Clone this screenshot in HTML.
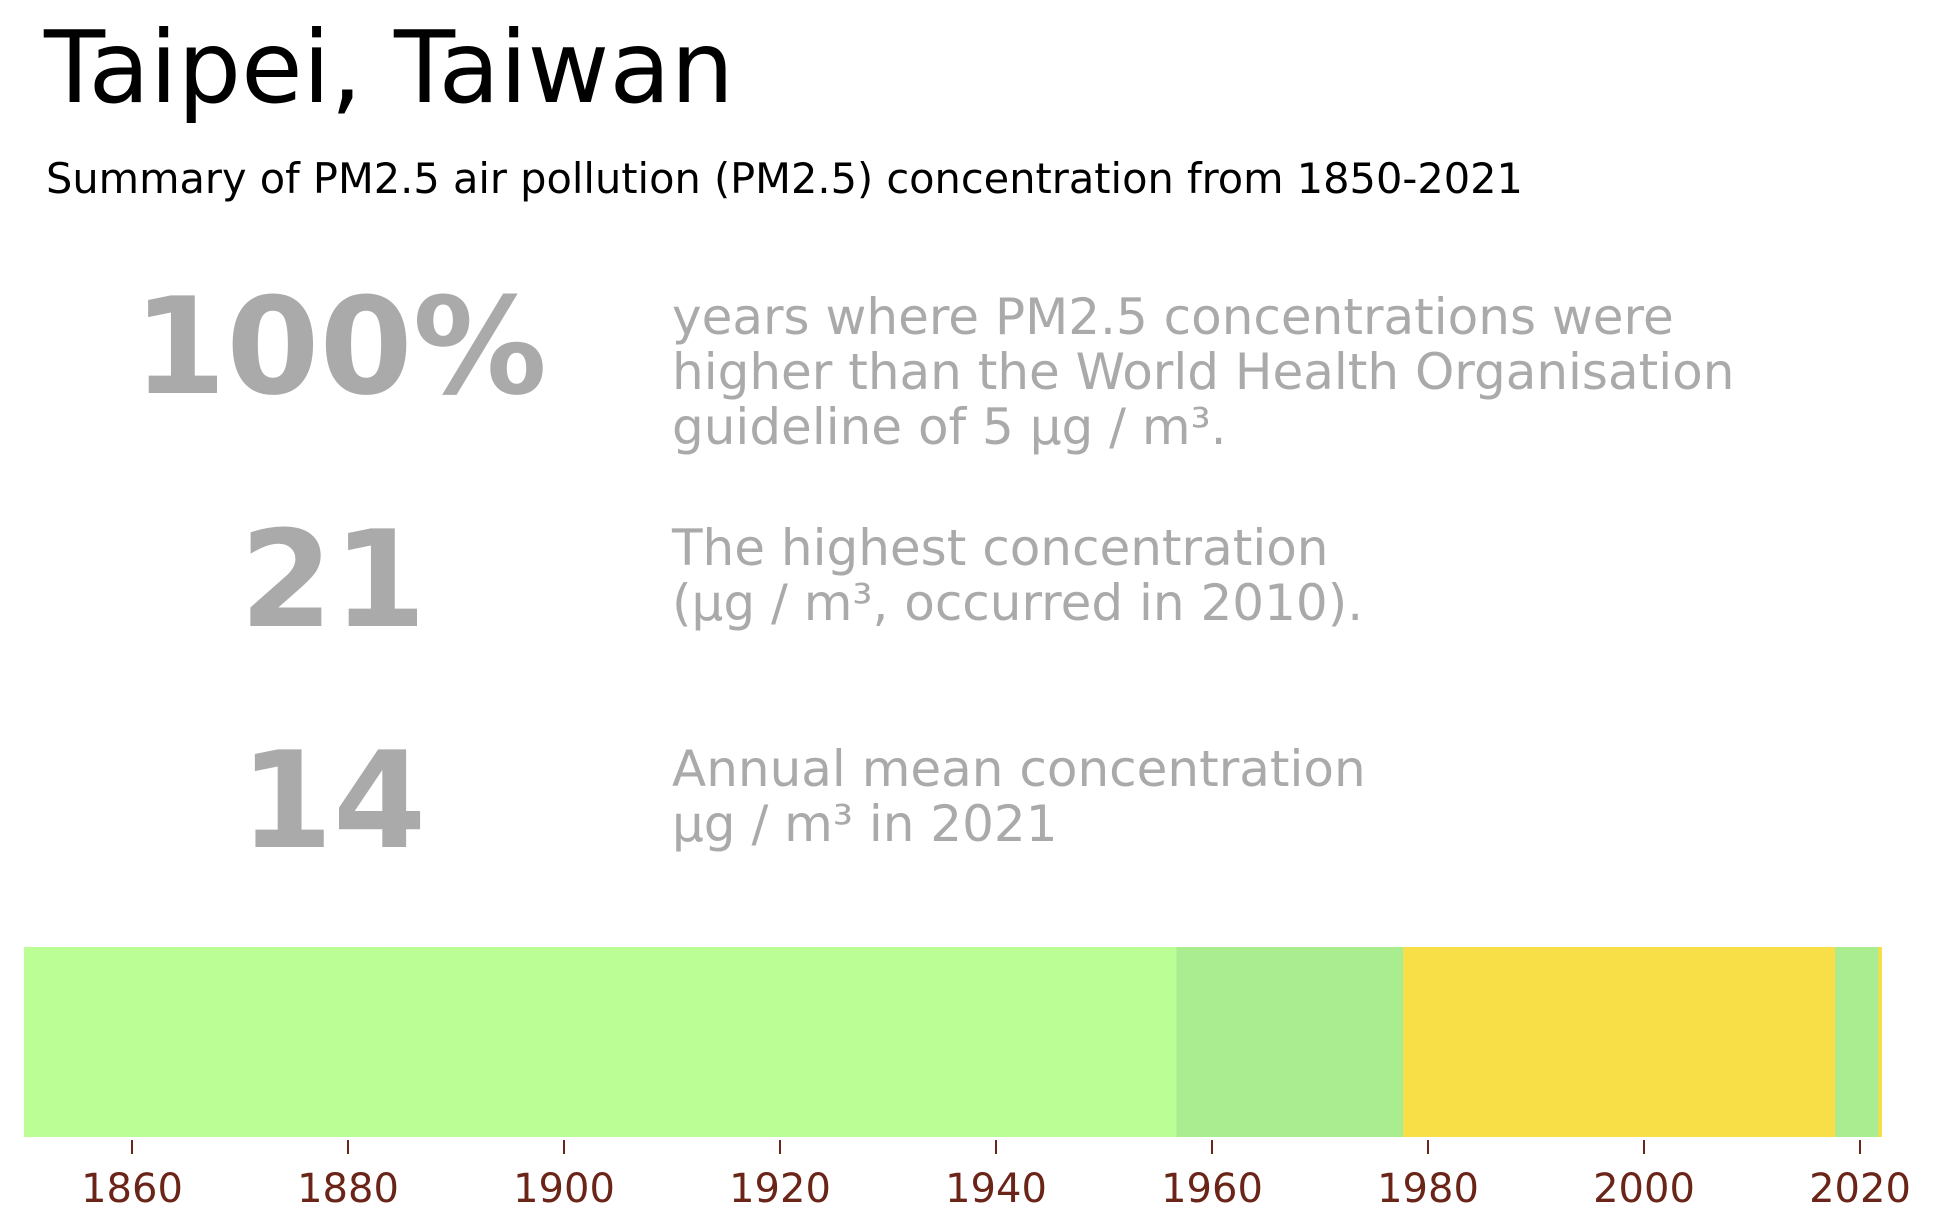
<!DOCTYPE html>
<html><head><meta charset="utf-8"><style>
html,body{margin:0;padding:0;background:#fff;}
svg{display:block;font-family:"DejaVu Sans","Liberation Sans",sans-serif;}
</style></head><body>
<svg id="chart" width="1938" height="1224" viewBox="0 0 1938 1224">
<text x="44" y="102" font-size="100" fill="#000">Taipei, Taiwan</text>
<text x="46" y="193" font-size="41.5" fill="#000">Summary of PM2.5 air pollution (PM2.5) concentration from 1850-2021</text>
<g fill="#aaaaaa">
<text x="340" y="393" font-size="134" font-weight="bold" text-anchor="middle">100%</text>
<text font-size="50">
<tspan x="672" y="334">years where PM2.5 concentrations were</tspan>
<tspan x="672" y="389">higher than the World Health Organisation</tspan>
<tspan x="672" y="444">guideline of 5 µg / m³.</tspan></text>
<text x="333" y="626" font-size="134" font-weight="bold" text-anchor="middle">21</text>
<text font-size="50">
<tspan x="672" y="565">The highest concentration</tspan>
<tspan x="672" y="620">(µg / m³, occurred in 2010).</tspan></text>
<text x="333" y="847" font-size="134" font-weight="bold" text-anchor="middle">14</text>
<text font-size="50">
<tspan x="672" y="786">Annual mean concentration</tspan>
<tspan x="672" y="841">µg / m³ in 2021</tspan></text>
</g>
<g id="bars"></g>
<g id="axis"></g>
</svg>
<script>
const segStarts = [1850, 1956, 1977, 2017, 2021];
const segEnds   = [1955, 1976, 2016, 2020, 2021];
const segValues = [6, 10, 16, 11, 14];
const tickYears = [1860, 1880, 1900, 1920, 1940, 1960, 1980, 2000, 2020];
const tickLabels = ["1860","1880","1900","1920","1940","1960","1980","2000","2020"];

const NS = "http://www.w3.org/2000/svg";
const plotX0 = 24, plotX1 = 1882, plotTop = 947, plotBottom = 1137;
const cellOffset = 0.7;
function xs(y){ return plotX0 + (y - 1850) * 10.8; }
function colorFor(v){ return v > 12 ? "#f9df47" : (v >= 8 ? "#aaed90" : "#bbfe96"); }
const barsG = document.getElementById("bars");
segStarts.forEach((s, i) => {
  for (let yr = s; yr <= segEnds[i]; yr++) {
    const a = yr === 1850 ? plotX0 : xs(yr + cellOffset);
    const b = Math.min(xs(yr + 1 + cellOffset), plotX1);
    if (b <= a) continue;
    const r = document.createElementNS(NS, "rect");
    
    
    r.setAttribute("x", a); r.setAttribute("y", plotTop);
    r.setAttribute("width", Math.min(b - a + 0.6, plotX1 - a)); r.setAttribute("height", plotBottom - plotTop);
    r.setAttribute("fill", colorFor(segValues[i]));
    barsG.appendChild(r);
  }
});
const axisG = document.getElementById("axis");
tickYears.forEach((t, i) => {
  const l = document.createElementNS(NS, "line");
  
  
  l.setAttribute("x1", xs(t)); l.setAttribute("x2", xs(t));
  l.setAttribute("y1", 1140); l.setAttribute("y2", 1154);
  l.setAttribute("stroke", "#6b2418"); l.setAttribute("stroke-width", "2");
  axisG.appendChild(l);
  const tx = document.createElementNS(NS, "text");
  
  
  tx.setAttribute("x", xs(t)); tx.setAttribute("y", 1202);
  tx.setAttribute("text-anchor", "middle"); tx.setAttribute("font-size", "40");
  tx.setAttribute("fill", "#6b2418");
  tx.textContent = tickLabels[i];
  axisG.appendChild(tx);
});
</script>
</body></html>
